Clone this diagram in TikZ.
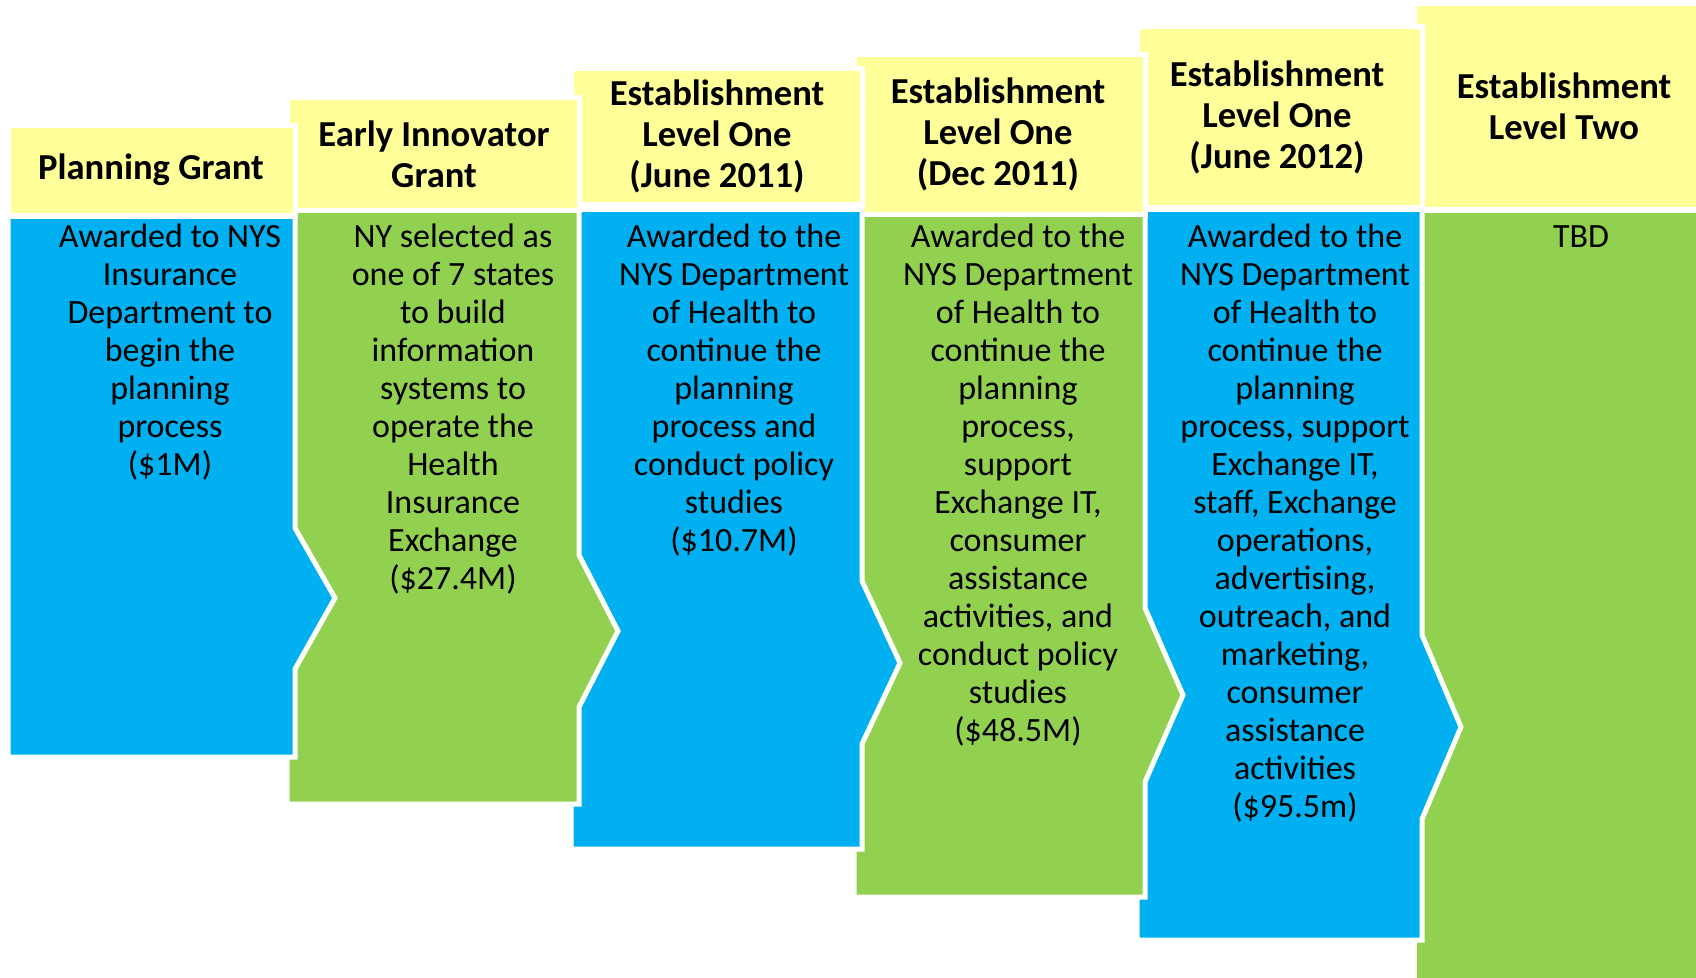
\documentclass[tikz,border=0pt]{standalone}
\usepackage{fontspec}
\setmainfont{Carlito}
\definecolor{cblue}{HTML}{00B0F0}
\definecolor{cgreen}{HTML}{92D050}
\definecolor{cyel}{HTML}{FFFF99}
\begin{document}
\begin{tikzpicture}[x=0.5pt,y=-0.5pt,
  shp/.style={draw=white, line width=2.5pt, line join=miter},
  hdr/.style={shp, fill=cyel},
  bluebody/.style={shp, fill=cblue},
  greenbody/.style={shp, fill=cgreen},
  htext/.style={font=\bfseries\fontsize{18.3}{20.5}\selectfont, align=center, inner sep=0pt},
  btext/.style={font=\fontsize{17}{19}\selectfont, align=center, inner sep=0pt, anchor=north}]
\useasboundingbox (0,0) rectangle (1696,978);
% column 6
\path[hdr] (1414,3.5) rectangle (1705,209.5);
\path[greenbody] (1414,210.5) rectangle (1705,990);
\node[htext] (h6) at (1564,106) {Establishment\\Level Two};
\node[btext] (t6) at (1581,219) {\rule{0pt}{14pt}TBD};
% column 5
\path[hdr] (1137,26.5) rectangle (1422,207.5);
\path[bluebody] (1137,209.5) -- (1422,209.5) -- (1422,635) -- (1461,727) -- (1422,819) -- (1422,940) -- (1137,940) -- cycle;
\node[htext] (h5) at (1277,117) {Establishment\\Level One\\(June 2012)};
\node[btext] (t5) at (1295,219) {\rule{0pt}{14pt}Awarded to the\\NYS Department\\of Health to\\continue the\\planning\\process, support\\Exchange IT,\\staff, Exchange\\operations,\\advertising,\\outreach, and\\marketing,\\consumer\\assistance\\activities\\(\$95.5m)};
% column 4
\path[hdr] (854,54.5) rectangle (1145,214.5);
\path[greenbody] (854,214.5) -- (1145,214.5) -- (1145,608) -- (1183,695) -- (1145,782) -- (1145,897) -- (854,897) -- cycle;
\node[htext] (h4) at (998,134) {Establishment\\Level One\\(Dec 2011)};
\node[btext] (t4) at (1018,219) {\rule{0pt}{14pt}Awarded to the\\NYS Department\\of Health to\\continue the\\planning\\process,\\support\\Exchange IT,\\consumer\\assistance\\activities, and\\conduct policy\\studies\\(\$48.5M)};
% column 3
\path[hdr] (571,68.5) rectangle (862,204.5);
\path[bluebody] (571,209.5) -- (862,209.5) -- (862,581) -- (900,663) -- (862,744) -- (862,849) -- (571,849) -- cycle;
\node[htext] (h3) at (717,136) {Establishment\\Level One\\(June 2011)};
\node[btext] (t3) at (734,219) {\rule{0pt}{14pt}Awarded to the\\NYS Department\\of Health to\\continue the\\planning\\process and\\conduct policy\\studies\\(\$10.7M)};
% column 2
\path[hdr] (287,97.5) rectangle (579,210.5);
\path[greenbody] (287,210.5) -- (579,210.5) -- (579,555) -- (618,631) -- (579,707) -- (579,804) -- (287,804) -- cycle;
\node[htext] (h2) at (434,154) {Early Innovator\\Grant};
\node[btext] (t2) at (453,219) {\rule{0pt}{14pt}NY selected as\\one of 7 states\\to build\\information\\systems to\\operate the\\Health\\Insurance\\Exchange\\(\$27.4M)};
% column 1
\path[hdr] (8,125.5) rectangle (295,215.5);
\path[bluebody] (8,216.5) -- (295,216.5) -- (295,528) -- (335,598) -- (295,669) -- (295,757) -- (8,757) -- cycle;
\node[htext] (h1) at (151,170) {Planning Grant};
\node[btext] (t1) at (170,219) {\rule{0pt}{14pt}Awarded to NYS\\Insurance\\Department to\\begin the\\planning\\process\\(\$1M)};
\end{tikzpicture}
\end{document}
